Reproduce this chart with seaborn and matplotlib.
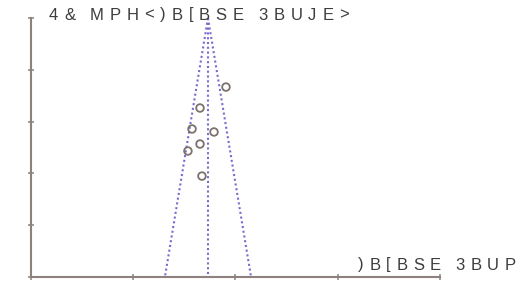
import numpy as np
import pandas as pd
import matplotlib
matplotlib.use("Agg")
import matplotlib.pyplot as plt
from matplotlib.font_manager import FontProperties
import seaborn as sns

# study estimates (log hazard ratio) and their standard errors
log_hr = [-0.093, -0.347, -0.425, -0.210, -0.347, -0.465, -0.328]
se = [0.0573, 0.0747, 0.0921, 0.0946, 0.1046, 0.1104, 0.1312]
pooled = -0.269
se_max = 0.215
x_ticks = [-2, -1, 0, 1, 2]
y_label = "4& MPH<)B[BSE 3BUJE>"
x_label = ")B[BSE 3BUP"

W, H = 521, 297
sns.set_style("white")
plt.rcParams['font.family'] = ['Liberation Sans', 'DejaVu Sans']

fig = plt.figure(figsize=(W / 100, H / 100), dpi=100)
ax = fig.add_axes([0.0595, 0.0673, 0.785, 0.872])

# funnel limits
se_grid = np.array([0.0, se_max])
funnel = pd.DataFrame({
    'se': np.concatenate([se_grid, se_grid, se_grid]),
    'x': np.concatenate([pooled - 1.96 * se_grid, pooled + 1.96 * se_grid,
                         np.full(2, pooled)]),
    'line': ['lo'] * 2 + ['hi'] * 2 + ['mid'] * 2,
})
sns.lineplot(data=funnel, x='x', y='se', units='line', estimator=None,
             color='#776bd0', linestyle=(0, (1, 1.3)), linewidth=1.5,
             sort=False, ax=ax)

df = pd.DataFrame({'log_hr': log_hr, 'se': se})
sns.scatterplot(data=df, x='log_hr', y='se', s=30, facecolor='none',
                edgecolor='#7d716c', linewidth=1.3, ax=ax, zorder=3)

ax.set_xlim(x_ticks[0], x_ticks[-1])
ax.set_ylim(se_max, 0)
ax.set_xticks(x_ticks)
ax.set_yticks(np.linspace(0, se_max, 6))
ax.set_xticklabels([])
ax.set_yticklabels([])
ax.set_xlabel('')
ax.set_ylabel('')

spine_col = '#8c817c'
for side in ['top', 'right']:
    ax.spines[side].set_visible(False)
for side in ['left', 'bottom']:
    ax.spines[side].set_color(spine_col)
    ax.spines[side].set_linewidth(1.5)
ax.tick_params(direction='inout', length=5, width=1.1, color=spine_col,
               left=True, bottom=True)

# letter-spaced labels, placed glyph by glyph
renderer = fig.canvas.get_renderer()
prop = FontProperties(family=['Liberation Sans', 'DejaVu Sans'], size=12)


def tracked(text, x_start, x_end, y_px):
    words = text.split(' ')
    widths = [[renderer.get_text_width_height_descent(c, prop, ismath=False)[0]
               for c in w] for w in words]
    n_gaps = sum(len(w) - 1 for w in words)
    word_gap = 1.5
    ink = sum(sum(w) for w in widths)
    free = (x_end - x_start) - ink
    track = free / (n_gaps + word_gap * (len(words) - 1) + len(words) - 1)
    x = x_start
    for wi, w in enumerate(words):
        for c, cw in zip(w, widths[wi]):
            fig.text(x / W, 1 - y_px / H, c, fontproperties=prop,
                     color='#3d3d3d', ha='left', va='center')
            x += cw + track
        x += track * word_gap

tracked(y_label, 49, 349, 15)
tracked(x_label, 358, 516, 265)

fig.savefig('out.png', dpi=100, facecolor='white')
